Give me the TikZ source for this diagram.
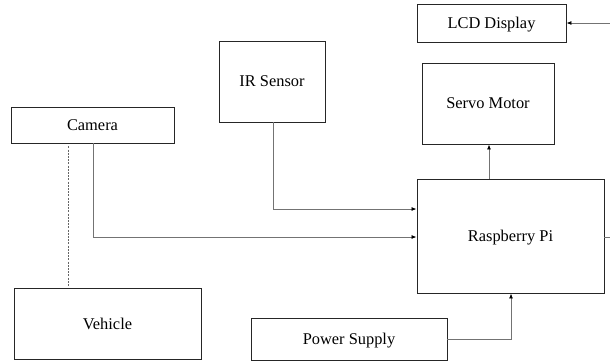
\documentclass[tikz,border=0pt]{standalone}
\usepackage{fontspec}
\setmainfont{Liberation Serif}
\usetikzlibrary{arrows.meta,calc}
\begin{document}
\begin{tikzpicture}[x=1pt,y=-1pt,
  blk/.style={draw=black!85,line width=0.95pt,fill=white,inner sep=0pt,text depth=0pt,font=\fontsize{16.4}{18}\selectfont},
  conn/.style={draw=black!55,line width=0.8pt},
  arr/.style={conn,-{Latex[length=5pt,width=4pt,black]}}]
\useasboundingbox (0,0) rectangle (610,362);
\node[blk,minimum width=149pt,minimum height=38pt] (lcd) at (491.5,23) {LCD Display};
\node[blk,minimum width=106pt,minimum height=81pt] (ir) at (272,81.5) {IR Sensor};
\node[blk,minimum width=132pt,minimum height=81pt] (servo) at (488,103.5) {Servo Motor};
\node[blk,minimum width=163pt,minimum height=36pt] (cam) at (92.5,125) {Camera};
\node[blk,minimum width=187pt,minimum height=114pt] (pi) at (510.5,236) {Raspberry Pi};
\node[blk,minimum width=187pt,minimum height=71pt] (veh) at (107.5,323.5) {Vehicle};
\node[blk,minimum width=196pt,minimum height=42pt] (ps) at (349,339) {Power Supply};
\coordinate (lcdin) at (610,23);
\coordinate (piout) at (610,237);
\draw[arr] (ir.south -| 273,0) |- (pi.west |- 0,209);
\draw[arr] (cam.south -| 93,0) |- (pi.west |- 0,237);
\draw[arr] (pi.north -| 489,0) -- (servo.south -| 489,0);
\draw[arr] (ps.east) -| (pi.south -| 511,0);
\draw[conn] (pi.east |- 0,237) -- (piout);
\draw[arr] (lcdin) -- (lcd.east);
\draw[draw=black!60,line width=0.8pt,dash pattern=on 2pt off 1.2pt] ($(cam.south -| 68,0)+(0,3)$) -- ($(veh.north -| 68,0)+(0,-2)$);
\end{tikzpicture}
\end{document}
